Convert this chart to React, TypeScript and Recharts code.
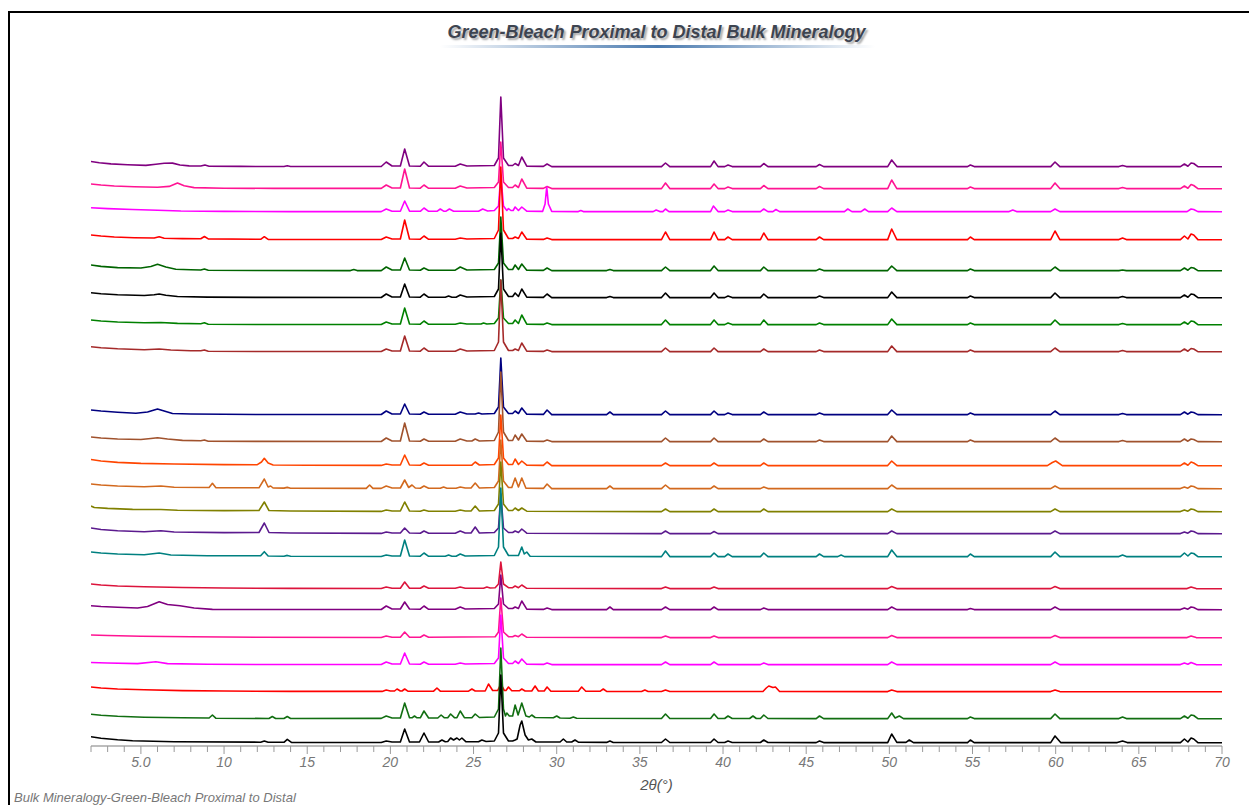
import * as React from "react";
import { LineChart, Line, XAxis, YAxis } from "recharts";

// XRD patterns, stacked. Each trace is a flat list of [2θ, counts above its own baseline]
// vertices; OFFSETS lift each pattern to its row.

const T1 = [2,5.5, 2.5,4.2, 3.2,3.1, 4.2,2.2, 5.3,1.6, 5.9,2.8, 6.4,3.8, 6.9,3.9, 7.35,2, 7.9,1.1, 8.6,1, 8.85,2, 9.1,0.8, 11,0.6, 13.6,0.5, 13.8,1.2, 14,0.5, 19.45,0.5, 19.75,5, 20.1,1, 20.6,1, 20.86,18, 21.15,1, 21.8,0.8, 22.02,5, 22.3,0.7, 23.9,0.8, 24.2,3, 24.6,1, 26.25,1.5, 26.5,9, 26.64,70, 26.8,9, 27.1,1.5, 27.35,1.5, 27.5,3.5, 27.7,1.5, 27.9,10, 28.2,0.8, 29.2,0.6, 29.42,3, 29.7,0.4, 36.3,0.4, 36.54,4, 36.8,0.4, 39.25,0.4, 39.46,6, 39.7,0.4, 40.1,0.4, 40.3,2, 40.55,0.4, 42.25,0.4, 42.45,3.5, 42.7,0.4, 45.6,0.4, 45.8,2.5, 46.05,0.4, 49.9,0.4, 50.14,7, 50.45,0.4, 54.7,0.4, 54.87,2, 55.1,0.4, 59.7,0.4, 59.96,5, 60.25,0.4, 63.8,0.4, 64.02,1.5, 64.25,0.4, 67.5,0.4, 67.74,3, 67.95,0.8, 68.14,4, 68.3,3.5, 68.55,0.4, 70,0.3];
const T2 = [2,5, 2.6,4, 3.4,3, 4.6,2.2, 6,1.7, 6.7,2.6, 7.2,6, 7.6,3.2, 8.2,1.4, 10,0.8, 13,0.6, 19.45,0.6, 19.75,4, 20.1,1, 20.6,1, 20.86,20, 21.15,1, 21.8,0.8, 22.02,4, 22.3,0.7, 23.9,0.8, 24.2,3, 24.6,1, 26.25,1.5, 26.5,7, 26.64,47, 26.8,7, 27.1,1.5, 27.35,1.5, 27.5,4, 27.7,1.5, 27.9,10, 28.2,0.8, 29.2,0.6, 29.42,2.5, 29.7,0.4, 36.3,0.4, 36.54,6, 36.8,0.4, 39.25,0.4, 39.46,5, 39.7,0.4, 40.1,0.4, 40.3,2, 40.55,0.4, 42.25,0.4, 42.45,3.5, 42.7,0.4, 45.6,0.4, 45.8,2.5, 46.05,0.4, 49.9,0.4, 50.14,9, 50.45,0.4, 54.7,0.4, 54.87,2, 55.1,0.4, 59.7,0.4, 59.96,6, 60.25,0.4, 63.8,0.4, 64.02,1.5, 64.25,0.4, 67.5,0.4, 67.74,3, 67.95,0.8, 68.14,4.5, 68.3,3.5, 68.55,0.4, 70,0.3];
const T3 = [2,4.3, 3,3.4, 4.5,2.5, 6,1.8, 7.4,1, 10,0.6, 14,0.4, 19.45,0.4, 19.75,3, 20.1,0.8, 20.6,0.8, 20.86,11, 21.15,0.8, 21.8,0.7, 22.02,4, 22.3,0.7, 22.8,0.7, 23.0,3, 23.2,0.8, 23.35,0.8, 23.55,3, 23.8,0.8, 25.3,0.8, 25.55,3, 25.85,1, 26.25,1.5, 26.5,6, 26.64,37, 26.8,6, 27.0,1.5, 27.1,3.5, 27.25,1.5, 27.38,1.5, 27.5,5, 27.7,1.5, 27.9,5, 28.2,0.8, 29.15,0.6, 29.3,8, 29.4,25, 29.5,8, 29.7,0.6, 31.3,0.4, 31.45,1.5, 31.6,0.4, 35.8,0.4, 35.98,2, 36.2,0.4, 36.38,0.4, 36.54,3, 36.75,0.4, 39.25,0.4, 39.42,6, 39.7,0.4, 40.1,0.4, 40.3,2, 40.55,0.4, 42.25,0.4, 42.45,3, 42.7,0.4, 43.0,0.4, 43.18,2.5, 43.4,0.4, 47.3,0.4, 47.5,3, 47.75,0.4, 48.3,0.4, 48.52,3, 48.75,0.4, 49.9,0.4, 50.14,4, 50.45,0.4, 57.2,0.4, 57.42,2, 57.65,0.4, 59.7,0.4, 59.96,3, 60.25,0.4, 67.9,0.4, 68.14,3, 68.3,2.5, 68.55,0.4, 70,0.3];
const T4 = [2,5, 2.6,4, 3.4,3, 4.6,2.3, 5.8,2, 6.1,3.3, 6.4,1.8, 7.5,1.4, 8.6,1.3, 8.82,3.5, 9.05,1.1, 12.2,0.7, 12.42,3.3, 12.65,0.6, 19.45,0.5, 19.75,3, 20.1,1, 20.6,1, 20.86,20, 21.15,1, 21.8,0.8, 22.02,4, 22.3,0.7, 23.9,0.8, 24.2,2, 24.6,1, 26.25,1.5, 26.5,10, 26.64,73, 26.8,10, 27.1,1.5, 27.35,1.5, 27.5,3, 27.7,1.5, 27.9,8, 28.2,0.8, 29.2,0.6, 29.42,2, 29.7,0.4, 36.3,0.4, 36.54,8, 36.8,0.4, 39.25,0.4, 39.46,8, 39.7,0.4, 40.1,0.4, 40.3,3, 40.55,0.4, 42.25,0.4, 42.45,7, 42.7,0.4, 45.6,0.4, 45.8,3, 46.05,0.4, 49.9,0.4, 50.14,11, 50.45,0.4, 54.7,0.4, 54.87,3, 55.1,0.4, 59.7,0.4, 59.96,9, 60.25,0.4, 63.8,0.4, 64.02,2, 64.25,0.4, 67.5,0.4, 67.74,4, 67.95,1, 68.14,6, 68.3,5, 68.55,0.4, 70,0.3];
const T5 = [2,6, 2.6,4.6, 3.6,3.4, 5.0,3, 5.6,4.5, 6.0,6.7, 6.5,4, 7.1,1.8, 8,1.2, 8.6,1, 8.82,2, 9.05,0.8, 12,0.5, 17.6,0.4, 17.8,1.5, 18,0.4, 19.45,0.4, 19.75,4, 20.1,1, 20.6,1, 20.86,13, 21.15,1, 21.8,0.8, 22.02,3, 22.3,0.7, 23.9,0.8, 24.2,4, 24.6,1, 26.25,1.5, 26.5,8, 26.64,54, 26.8,8, 27.1,1.5, 27.35,1.5, 27.5,6, 27.7,1.5, 27.9,7, 28.2,0.8, 29.2,0.6, 29.42,3, 29.7,0.4, 33,0.4, 33.2,1.5, 33.4,0.4, 36.3,0.4, 36.54,4, 36.8,0.4, 39.25,0.4, 39.46,5, 39.7,0.4, 42.25,0.4, 42.45,4, 42.7,0.4, 45.6,0.4, 45.8,2, 46.05,0.4, 49.9,0.4, 50.14,5, 50.45,0.4, 54.7,0.4, 54.87,2, 55.1,0.4, 59.7,0.4, 59.96,4, 60.25,0.4, 63.8,0.4, 64.02,1, 64.25,0.4, 67.5,0.4, 67.74,3, 67.95,0.8, 68.14,3.5, 68.3,3, 68.55,0.4, 70,0.3];
const T6 = [2,5.3, 2.6,4.2, 3.6,3.2, 5.2,2.5, 5.8,3.2, 6.1,4, 6.5,2.8, 7.2,1.5, 9,0.9, 12,0.6, 19.45,0.5, 19.75,4, 20.1,1, 20.6,1, 20.86,14, 21.15,1, 21.8,0.8, 22.02,4, 22.3,0.7, 23.3,0.8, 23.5,2, 23.7,0.8, 23.95,0.8, 24.2,3, 24.6,1, 26.25,1.5, 26.5,9, 26.64,65, 26.8,9, 27.1,1.5, 27.35,1.5, 27.5,5, 27.7,1.5, 27.9,9, 28.2,0.8, 29.2,0.6, 29.42,4, 29.7,0.4, 33,0.4, 33.2,1.5, 33.4,0.4, 36.3,0.4, 36.54,5, 36.8,0.4, 39.25,0.4, 39.46,5, 39.7,0.4, 40.1,0.4, 40.3,2, 40.55,0.4, 42.25,0.4, 42.45,4, 42.7,0.4, 45.6,0.4, 45.8,2, 46.05,0.4, 49.9,0.4, 50.14,6, 50.45,0.4, 54.7,0.4, 54.87,2, 55.1,0.4, 59.7,0.4, 59.96,5, 60.25,0.4, 63.8,0.4, 64.02,1.5, 64.25,0.4, 67.5,0.4, 67.74,3, 67.95,0.8, 68.14,4, 68.3,3.5, 68.55,0.4, 70,0.3];
const T7 = [2,5, 2.6,4, 3.6,3, 5.2,2.3, 6.2,2.5, 7.2,1.6, 8.6,1.2, 8.82,2.2, 9.05,0.8, 12,0.5, 19.45,0.5, 19.75,3, 20.1,1, 20.6,1, 20.86,17, 21.15,1, 21.8,0.8, 22.02,4, 22.3,0.7, 23.9,0.8, 24.2,2, 24.6,1, 25.45,1, 25.6,2, 25.8,1, 26.25,1.5, 26.5,7, 26.64,45, 26.8,7, 27.1,1.5, 27.35,1.5, 27.5,5, 27.7,1.5, 27.9,10, 28.2,0.8, 29.2,0.6, 29.42,2, 29.7,0.4, 36.3,0.4, 36.54,5, 36.8,0.4, 39.25,0.4, 39.46,5, 39.7,0.4, 40.1,0.4, 40.3,2, 40.55,0.4, 42.25,0.4, 42.45,5, 42.7,0.4, 45.6,0.4, 45.8,2, 46.05,0.4, 49.9,0.4, 50.14,6, 50.45,0.4, 54.7,0.4, 54.87,2, 55.1,0.4, 59.7,0.4, 59.96,5, 60.25,0.4, 63.8,0.4, 64.02,1.5, 64.25,0.4, 67.5,0.4, 67.74,3, 67.95,0.8, 68.14,4, 68.3,3.5, 68.55,0.4, 70,0.3];
const T8 = [2,5.3, 2.6,4.2, 3.6,3.2, 5.2,2.3, 6.1,3, 6.8,2, 8,1.2, 8.6,1.2, 8.82,2, 9.05,0.8, 12,0.5, 19.45,0.5, 19.75,3, 20.1,1, 20.6,1, 20.86,16, 21.15,1, 21.8,0.8, 22.02,4, 22.3,0.7, 23.9,0.8, 24.2,3, 24.6,1, 26.25,1.5, 26.5,10, 26.64,72, 26.8,10, 27.1,1.5, 27.35,1.5, 27.5,3, 27.7,1.5, 27.9,9, 28.2,0.8, 29.2,0.6, 29.42,2, 29.7,0.4, 36.3,0.4, 36.54,4, 36.8,0.4, 39.25,0.4, 39.46,4, 39.7,0.4, 42.25,0.4, 42.45,3, 42.7,0.4, 45.6,0.4, 45.8,2, 46.05,0.4, 49.9,0.4, 50.14,6, 50.45,0.4, 54.7,0.4, 54.87,2, 55.1,0.4, 59.7,0.4, 59.96,4, 60.25,0.4, 63.8,0.4, 64.02,1.5, 64.25,0.4, 67.5,0.4, 67.74,3, 67.95,0.8, 68.14,3.5, 68.3,3, 68.55,0.4, 70,0.3];
const T9 = [2,5, 2.6,4, 3.6,2.8, 4.7,1.8, 5.4,3, 6.0,6, 6.5,3.5, 6.9,1.5, 8,1, 12,0.5, 19.45,0.5, 19.75,4, 20.1,1, 20.6,1, 20.86,11, 21.15,1, 21.8,0.8, 22.02,3, 22.3,0.7, 23.9,0.8, 24.2,3, 24.6,1, 25.1,1, 25.3,2, 25.5,1, 26.25,1.5, 26.5,8, 26.64,57, 26.8,8, 27.1,1.5, 27.35,1.5, 27.5,4, 27.7,1.5, 27.9,7, 28.2,0.8, 29.2,0.6, 29.42,5, 29.7,0.4, 33,0.4, 33.2,3, 33.4,0.4, 36.3,0.4, 36.54,4, 36.8,0.4, 39.25,0.4, 39.46,4, 39.7,0.4, 40.1,0.4, 40.3,2, 40.55,0.4, 42.25,0.4, 42.45,3, 42.7,0.4, 45.6,0.4, 45.8,2, 46.05,0.4, 49.9,0.4, 50.14,5, 50.45,0.4, 54.7,0.4, 54.87,2, 55.1,0.4, 59.7,0.4, 59.96,4, 60.25,0.4, 63.8,0.4, 64.02,1.5, 64.25,0.4, 67.5,0.4, 67.74,3, 67.95,0.8, 68.14,3, 68.3,2.5, 68.55,0.4, 70,0.3];
const T10 = [2,5, 2.6,4, 3.6,3, 5.0,2.5, 5.6,3.5, 6.0,4.3, 6.6,3, 7.5,1.6, 8.6,1.3, 8.82,2, 9.05,0.8, 12,0.6, 19.45,0.5, 19.75,4, 20.1,1, 20.6,1, 20.86,19, 21.15,1, 21.8,0.8, 22.02,3, 22.3,0.7, 23.9,0.8, 24.2,3, 24.6,1, 24.9,1, 25.1,3, 25.35,1, 26.25,1.5, 26.5,10, 26.64,70, 26.8,10, 27.1,1.5, 27.35,1.5, 27.5,7, 27.7,2, 27.9,8, 28.2,0.8, 29.2,0.6, 29.42,2, 29.7,0.4, 36.3,0.4, 36.54,4, 36.8,0.4, 39.25,0.4, 39.46,4, 39.7,0.4, 42.25,0.4, 42.45,3, 42.7,0.4, 45.6,0.4, 45.8,2, 46.05,0.4, 49.9,0.4, 50.14,6, 50.45,0.4, 54.7,0.4, 54.87,2, 55.1,0.4, 59.7,0.4, 59.96,4, 60.25,0.4, 63.8,0.4, 64.02,1.5, 64.25,0.4, 67.5,0.4, 67.74,3, 67.95,0.8, 68.14,3, 68.3,2.5, 68.55,0.4, 70,0.3];
const T11 = [2,6.5, 2.6,5, 3.6,3.6, 5,2.6, 7,2, 10,1.4, 12.0,1.3, 12.25,4, 12.42,7.7, 12.65,3, 12.95,1, 15,0.8, 19.45,0.6, 19.75,2, 20.1,1, 20.6,1, 20.86,11, 21.15,1, 21.8,0.8, 22.02,3, 22.3,0.7, 24.9,0.8, 25.1,4, 25.35,1, 26.25,1.5, 26.5,8, 26.64,51, 26.8,8, 27.1,1.5, 27.35,1.5, 27.5,7, 27.7,1.5, 27.9,5, 28.2,0.8, 29.2,0.6, 29.42,4, 29.7,0.4, 36.3,0.4, 36.54,3, 36.8,0.4, 39.25,0.4, 39.46,3, 39.7,0.4, 42.25,0.4, 42.45,3, 42.7,0.4, 49.9,0.4, 50.14,5, 50.45,0.4, 59.5,0.4, 59.8,3.5, 60.0,5, 60.4,0.4, 67.5,0.4, 67.74,3, 67.95,0.8, 68.14,4, 68.3,3, 68.55,0.4, 70,0.3];
const T12 = [2,5, 2.6,4, 3.6,3, 5.2,2.2, 6.2,3, 7,1.8, 9.1,1.5, 9.3,5.7, 9.5,1.4, 12.1,1.2, 12.42,10, 12.65,2, 12.8,3, 12.95,1, 13.6,0.9, 13.8,1.6, 14,0.8, 18.55,0.6, 18.75,4, 18.95,0.6, 19.45,0.6, 19.75,3, 20.1,1, 20.6,1, 20.86,9, 21.1,1.5, 21.3,4, 21.5,1, 21.8,0.8, 22.02,3, 22.3,0.7, 23.0,0.7, 23.2,2, 23.4,0.8, 23.95,0.8, 24.2,2, 24.5,1, 24.85,1, 25.1,6, 25.35,1, 26.25,1.5, 26.5,8, 26.64,49, 26.8,8, 27.1,1.5, 27.3,1.5, 27.5,11, 27.7,2, 27.9,11, 28.15,0.8, 29.2,0.6, 29.42,5, 29.7,0.4, 33,0.4, 33.2,3, 33.4,0.4, 36.3,0.4, 36.54,4, 36.8,0.4, 39.25,0.4, 39.46,3, 39.7,0.4, 42.25,0.4, 42.45,2, 42.7,0.4, 49.9,0.4, 50.14,4, 50.45,0.4, 59.7,0.4, 59.96,3, 60.25,0.4, 67.5,0.4, 67.74,2, 67.95,0.8, 68.14,3, 68.3,2.5, 68.55,0.4, 70,0.3];
const T13 = [2,6, 2.2,4.5, 3,3.6, 4.5,2.6, 6.2,2.5, 7.2,1.8, 10,1.4, 12.1,1.5, 12.42,10, 12.7,1.5, 14,1, 19.45,0.6, 19.75,2, 20.1,1, 20.6,1, 20.86,10, 21.15,1, 21.8,0.8, 22.02,2, 22.3,0.7, 23.9,0.8, 24.2,2, 24.5,1, 24.85,1, 25.1,6, 25.35,1, 26.25,1.5, 26.5,8, 26.64,50, 26.8,8, 27.1,1.5, 27.35,1.5, 27.5,4, 27.7,1.5, 27.9,4, 28.2,0.8, 36.3,0.4, 36.54,3, 36.8,0.4, 39.25,0.4, 39.46,3, 39.7,0.4, 42.25,0.4, 42.45,3, 42.7,0.4, 49.9,0.4, 50.14,3, 50.45,0.4, 59.7,0.4, 59.96,3, 60.25,0.4, 67.5,0.4, 67.74,2, 67.95,0.8, 68.14,3, 68.3,2.5, 68.55,0.4, 70,0.3];
const T14 = [2,6, 2.6,4.5, 3.6,3.2, 5.2,2.3, 6.2,3.3, 7,2, 10,1.4, 12.1,1.5, 12.42,11, 12.7,1.5, 14,1, 19.45,0.6, 19.75,2, 20.1,1, 20.6,1, 20.86,6, 21.15,1, 21.8,0.8, 22.02,3, 22.3,0.7, 23.9,0.8, 24.2,3, 24.5,1, 24.85,1, 25.1,7, 25.35,1, 26.25,1.5, 26.5,6, 26.64,40, 26.8,6, 27.1,1.5, 27.35,1.5, 27.5,3, 27.7,1.5, 27.9,5, 28.2,0.8, 36.3,0.4, 36.54,3, 36.8,0.4, 39.25,0.4, 39.46,2.5, 39.7,0.4, 49.9,0.4, 50.14,3, 50.45,0.4, 59.7,0.4, 59.96,3, 60.25,0.4, 67.5,0.4, 67.74,2, 67.95,0.8, 68.14,3, 68.3,2.5, 68.55,0.4, 70,0.3];
const T15 = [2,5, 2.6,4, 3.6,3, 5.2,2.3, 6.1,4, 6.8,2, 9,1.3, 12.2,1.2, 12.42,5.3, 12.65,1, 13.6,0.8, 13.8,1.6, 14,0.7, 19.45,0.5, 19.75,2, 20.1,1, 20.6,1, 20.86,17, 21.15,1, 21.8,0.8, 22.02,4, 22.3,0.7, 23.3,0.8, 23.5,2, 23.7,0.8, 23.95,0.8, 24.2,3, 24.5,1, 26.25,1.5, 26.5,10, 26.64,69, 26.8,10, 27.1,1.5, 27.7,1.5, 27.9,10, 28.05,3, 28.2,5, 28.4,0.8, 36.3,0.4, 36.54,6, 36.8,0.4, 39.25,0.4, 39.46,4, 39.7,0.4, 40.1,0.4, 40.3,3, 40.55,0.4, 42.25,0.4, 42.45,4, 42.7,0.4, 45.6,0.4, 45.8,3, 46.05,0.4, 46.9,0.4, 47.1,2, 47.3,0.4, 49.9,0.4, 50.14,7, 50.45,0.4, 54.7,0.4, 54.87,3, 55.1,0.4, 59.7,0.4, 59.96,5, 60.25,0.4, 63.8,0.4, 64.02,2, 64.25,0.4, 67.5,0.4, 67.74,4, 67.95,1, 68.14,4, 68.3,3.5, 68.55,0.4, 70,0.3];
const T16 = [2,5, 2.6,4, 3.6,3, 5.2,2.2, 7.5,1.5, 10,1, 14,0.6, 19.45,0.5, 19.75,2, 20.1,0.8, 20.6,0.8, 20.86,7, 21.15,0.8, 21.8,0.7, 22.02,3, 22.3,0.7, 23.9,0.7, 24.2,2, 24.5,0.8, 25.6,0.8, 25.8,2, 26.0,1, 26.3,1.3, 26.5,5, 26.64,27, 26.8,5, 27.1,1.3, 27.35,1.3, 27.5,3, 27.7,1.3, 27.9,4, 28.2,0.7, 36.3,0.4, 36.54,2, 36.8,0.4, 39.25,0.4, 39.46,2, 39.7,0.4, 49.9,0.4, 50.14,2.5, 50.45,0.4, 59.7,0.4, 59.96,2.5, 60.25,0.4, 67.9,0.4, 68.14,2, 68.45,0.4, 70,0.3];
const T17 = [2,4.3, 2.6,3.5, 3.6,2.7, 4.8,2, 5.4,3.5, 6.1,8.3, 6.6,5.5, 7.35,4.3, 8.2,2, 9.3,0.6, 12,0.5, 19.45,0.5, 19.75,4, 20.1,1, 20.6,1, 20.86,8, 21.15,1, 21.8,0.8, 22.02,4, 22.3,0.7, 23.9,0.8, 24.2,3, 24.5,1, 26.25,1.5, 26.5,6, 26.64,35, 26.8,6, 27.1,1.5, 27.35,1.5, 27.5,3, 27.7,1.5, 27.9,9, 28.2,0.8, 29.2,0.6, 29.42,2, 29.7,0.4, 33,0.4, 33.2,3, 33.4,0.4, 36.3,0.4, 36.54,3, 36.8,0.4, 39.25,0.4, 39.46,3, 39.7,0.4, 42.25,0.4, 42.45,2, 42.7,0.4, 49.9,0.4, 50.14,3, 50.45,0.4, 54.7,0.4, 54.87,1.5, 55.1,0.4, 59.7,0.4, 59.96,3, 60.25,0.4, 67.5,0.4, 67.74,2, 67.95,0.8, 68.14,3, 68.3,2.5, 68.55,0.4, 70,0.3];
const T18 = [2,3, 3,2.5, 5,1.8, 8,1.2, 12,0.7, 19.45,0.5, 19.75,2, 20.1,0.8, 20.6,0.8, 20.86,6, 21.15,0.8, 21.8,0.7, 22.02,3, 22.3,0.7, 26.3,1.3, 26.5,6, 26.64,40, 26.8,6, 27.1,1.3, 27.35,1.3, 27.5,2.5, 27.7,1.3, 27.9,4, 28.2,0.7, 36.3,0.4, 36.54,2, 36.8,0.4, 39.25,0.4, 39.46,2, 39.7,0.4, 49.9,0.4, 50.14,2.5, 50.45,0.4, 59.7,0.4, 59.96,2.5, 60.25,0.4, 67.9,0.4, 68.14,2, 68.45,0.4, 70,0.3];
const T19 = [2,2.5, 3,2, 4.8,1.4, 5.9,3.3, 6.6,1.4, 9,0.8, 12,0.5, 19.45,0.5, 19.75,3, 20.1,1, 20.6,1, 20.86,12, 21.15,1, 21.8,0.8, 22.02,3, 22.3,0.7, 23.9,0.8, 24.2,2, 24.5,1, 26.25,1.5, 26.5,7, 26.64,50, 26.8,7, 27.1,1.5, 27.35,1.5, 27.5,4, 27.7,1.5, 27.9,6, 28.2,0.8, 29.2,0.6, 29.42,2, 29.7,0.4, 36.3,0.4, 36.54,3, 36.8,0.4, 39.25,0.4, 39.46,3, 39.7,0.4, 42.25,0.4, 42.45,2, 42.7,0.4, 49.9,0.4, 50.14,3, 50.45,0.4, 59.7,0.4, 59.96,3, 60.25,0.4, 67.5,0.4, 67.74,2, 67.95,0.8, 68.14,2.5, 68.45,0.4, 70,0.3];
const T20 = [2,5, 2.6,4, 3.6,3, 5.2,2.2, 7.5,1.4, 10,1, 14,0.6, 19.5,0.6, 19.75,2, 20.0,1, 20.25,1, 20.4,3, 20.6,1, 20.7,1, 20.86,3, 21.05,0.8, 22.6,0.8, 22.8,4, 23.0,0.8, 24.7,0.8, 24.9,3, 25.1,1, 25.7,1, 25.9,8, 26.15,1.5, 26.45,1.5, 26.64,8, 26.85,1.5, 26.95,1.5, 27.1,5, 27.3,1.2, 27.75,1.2, 27.9,3, 28.1,1, 28.5,1, 28.7,6, 28.9,1, 29.25,1, 29.42,5, 29.65,0.8, 31.3,0.8, 31.5,5, 31.75,0.7, 32.6,0.7, 32.8,3, 33.0,0.6, 35.1,0.5, 35.3,2, 35.5,0.5, 36.3,0.5, 36.54,2, 36.8,0.5, 42.4,0.5, 42.6,4, 42.75,6, 43.0,4.5, 43.15,5, 43.4,0.5, 49.9,0.4, 50.14,2, 50.45,0.4, 59.7,0.4, 59.96,2, 60.25,0.4, 70,0.3];
const T21 = [2,4.7, 2.6,3.7, 3.6,2.7, 5.2,1.8, 7.5,1.2, 9.1,1, 9.3,4, 9.5,0.8, 12.7,0.5, 12.9,2.5, 13.1,0.5, 13.6,0.5, 13.8,2.5, 14,0.5, 19.45,0.6, 19.75,3, 20.1,1, 20.6,1, 20.86,16, 21.15,1.2, 21.3,1.2, 21.45,3, 21.6,1.2, 21.8,1.2, 22.02,8, 22.3,1, 22.85,1, 23.05,4, 23.25,1.2, 23.45,1.2, 23.62,5, 23.85,1.3, 24.0,1.3, 24.2,8, 24.45,1.3, 24.9,1.3, 25.1,5, 25.35,1.5, 26.25,2, 26.5,10, 26.64,71, 26.8,10, 26.92,3, 27.0,6, 27.15,3, 27.35,3, 27.5,14, 27.68,4, 27.9,16, 28.15,3, 28.35,2, 28.5,4, 28.7,1.5, 29.8,1.2, 30.0,3, 30.2,1, 30.8,0.8, 31.0,2, 31.2,0.7, 36.3,0.5, 36.54,5, 36.8,0.5, 39.25,0.5, 39.46,5, 39.7,0.5, 40.1,0.5, 40.3,3, 40.55,0.5, 41.6,0.5, 41.8,3, 42.0,0.5, 42.25,0.5, 42.45,4, 42.7,0.5, 45.6,0.4, 45.8,3, 46.05,0.4, 49.9,0.4, 50.14,6, 50.35,1, 50.6,3, 50.85,0.4, 54.7,0.4, 54.87,2, 55.1,0.4, 59.7,0.4, 59.96,5, 60.25,0.4, 63.8,0.4, 64.02,2, 64.25,0.4, 67.5,0.4, 67.74,3, 67.95,0.8, 68.14,4, 68.3,3.5, 68.55,0.4, 70,0.3];
const T22 = [2,6.3, 2.6,4.8, 3.6,3.3, 4.5,2.3, 7,1.3, 12.2,0.8, 12.42,2, 12.65,0.7, 13.6,0.7, 13.8,3.7, 14.05,0.6, 19.45,0.5, 19.75,2, 20.1,1, 20.6,1, 20.86,14, 21.15,1, 21.75,1, 22.02,10, 22.3,1, 22.9,1, 23.1,3, 23.3,1.2, 23.45,1.5, 23.62,5, 23.8,3, 24.0,5, 24.15,3, 24.3,5, 24.55,1.2, 25.3,1.2, 25.5,3, 25.75,1.5, 26.25,2, 26.5,10, 26.64,68, 26.8,10, 27.1,2, 27.35,2, 27.5,3, 27.62,4, 27.8,18, 27.9,22, 28.1,8, 28.3,3, 28.5,4, 28.75,1, 30.2,1, 30.4,4, 30.6,1, 30.9,1, 31.1,3, 31.3,0.8, 33,0.6, 33.2,2, 33.4,0.5, 36.3,0.5, 36.54,4, 36.8,0.5, 39.25,0.5, 39.46,4, 39.7,0.5, 40.1,0.5, 40.3,2, 40.55,0.5, 42.25,0.5, 42.45,3, 42.7,0.5, 45.6,0.4, 45.8,2, 46.05,0.4, 49.9,0.4, 50.14,9, 50.45,0.6, 51.0,0.6, 51.2,3, 51.45,0.4, 54.7,0.4, 54.87,3, 55.1,0.4, 59.7,0.4, 59.96,7, 60.3,0.4, 63.7,0.4, 64.02,2, 64.3,0.4, 67.5,0.4, 67.74,4, 67.95,1, 68.14,5, 68.3,4, 68.55,0.4, 70,0.3];

const TRACES = [T1, T2, T3, T4, T5, T6, T7, T8, T9, T10, T11, T12, T13, T14, T15, T16, T17, T18, T19, T20, T21, T22];
const OFFSETS = [579, 557, 534, 506, 475, 448, 421, 394, 331, 304, 280, 257, 234, 212, 189, 157, 136, 108, 81, 54, 27, 3];
const COLORS = [
  "#800080", "#FF1493", "#FF00FF", "#FF0000", "#006400", "#000000", "#008000", "#A52A2A",
  "#000080", "#A0522D", "#FF4500", "#D2691E", "#808000", "#5B1A8E", "#008080",
  "#DC143C", "#800080", "#FF1493", "#FF00FF", "#FF0000", "#116E11", "#000000",
];

const MAJOR_TICKS = [5, 10, 15, 20, 25, 30, 35, 40, 45, 50, 55, 60, 65, 70];
const MAJOR_LABELS = ["5.0", "10", "15", "20", "25", "30", "35", "40", "45", "50", "55", "60", "65", "70"];
const ALL_TICKS = Array.from({ length: 69 }, (_, i) => i + 2);

const FONT = "'Liberation Sans', Arial, sans-serif";

function toPoints(flat: number[], offset: number) {
  const out: { x: number; y: number }[] = [];
  for (let i = 0; i < flat.length; i += 2) out.push({ x: flat[i], y: flat[i + 1] + offset });
  return out;
}

function AxisTick(props: any) {
  const { x, y, payload } = props;
  const idx = MAJOR_TICKS.indexOf(payload.value);
  const major = idx >= 0;
  return (
    <g>
      <line x1={x} x2={x} y1={y} y2={y + (major ? 8 : 6)} stroke="#9a9a9a" strokeWidth={1} />
      {major && (
        <text x={x} y={y + 21} textAnchor="middle" fontFamily={FONT} fontStyle="italic" fontSize={14} fill="#777">
          {MAJOR_LABELS[idx]}
        </text>
      )}
    </g>
  );
}

export default function App() {
  const series = TRACES.map((t, i) => toPoints(t, OFFSETS[i]));
  return (
    <div
      style={{
        position: "absolute",
        left: 8,
        top: 11,
        width: 1241,
        height: 794,
        boxSizing: "border-box",
        borderTop: "2px solid #000",
        borderLeft: "2px solid #000",
        background: "#fff",
        fontFamily: FONT,
      }}
    >
      <div
        style={{
          position: "absolute",
          left: 81,
          top: 9,
          width: 1131,
          textAlign: "center",
          fontSize: 18,
          lineHeight: "20px",
          fontWeight: "bold",
          fontStyle: "italic",
          color: "#3d4450",
          textShadow: "2px 2px 2px rgba(0,0,0,0.35)",
        }}
      >
        Green-Bleach Proximal to Distal Bulk Mineralogy
      </div>
      <div
        style={{
          position: "absolute",
          left: 430,
          top: 32,
          width: 435,
          height: 3,
          background: "linear-gradient(to right, rgba(74,122,175,0), #4a7aaf 50%, rgba(74,122,175,0))",
        }}
      />
      <div style={{ position: "absolute", left: 0, top: 0 }}>
        <LineChart width={1230} height={773} margin={{ top: 67, right: 18, bottom: 0, left: 81 }}>
          <XAxis
            dataKey="x"
            type="number"
            domain={[2, 70]}
            ticks={ALL_TICKS}
            interval={0}
            tickSize={0}
            tickMargin={0}
            tick={<AxisTick />}
            axisLine={{ stroke: "#bdbdbd", strokeWidth: 2 }}
            height={40}
            allowDataOverflow
          />
          <YAxis hide type="number" domain={[0, 666]} allowDataOverflow />
          {series.map((pts, i) => (
            <Line
              key={i}
              data={pts}
              dataKey="y"
              type="linear"
              stroke={COLORS[i]}
              strokeWidth={1.6}
              strokeLinejoin="round"
              dot={false}
              activeDot={false}
              isAnimationActive={false}
            />
          ))}
        </LineChart>
      </div>
      <div
        style={{
          position: "absolute",
          left: 81,
          top: 763,
          width: 1131,
          textAlign: "center",
          fontSize: 15,
          lineHeight: "18px",
          fontStyle: "italic",
          color: "#555",
        }}
      >
        2θ(°)
      </div>
      <div
        style={{
          position: "absolute",
          left: 4,
          top: 777,
          fontSize: 13,
          lineHeight: "15px",
          fontStyle: "italic",
          color: "#777",
          whiteSpace: "nowrap",
        }}
      >
        Bulk Mineralogy-Green-Bleach Proximal to Distal
      </div>
    </div>
  );
}
